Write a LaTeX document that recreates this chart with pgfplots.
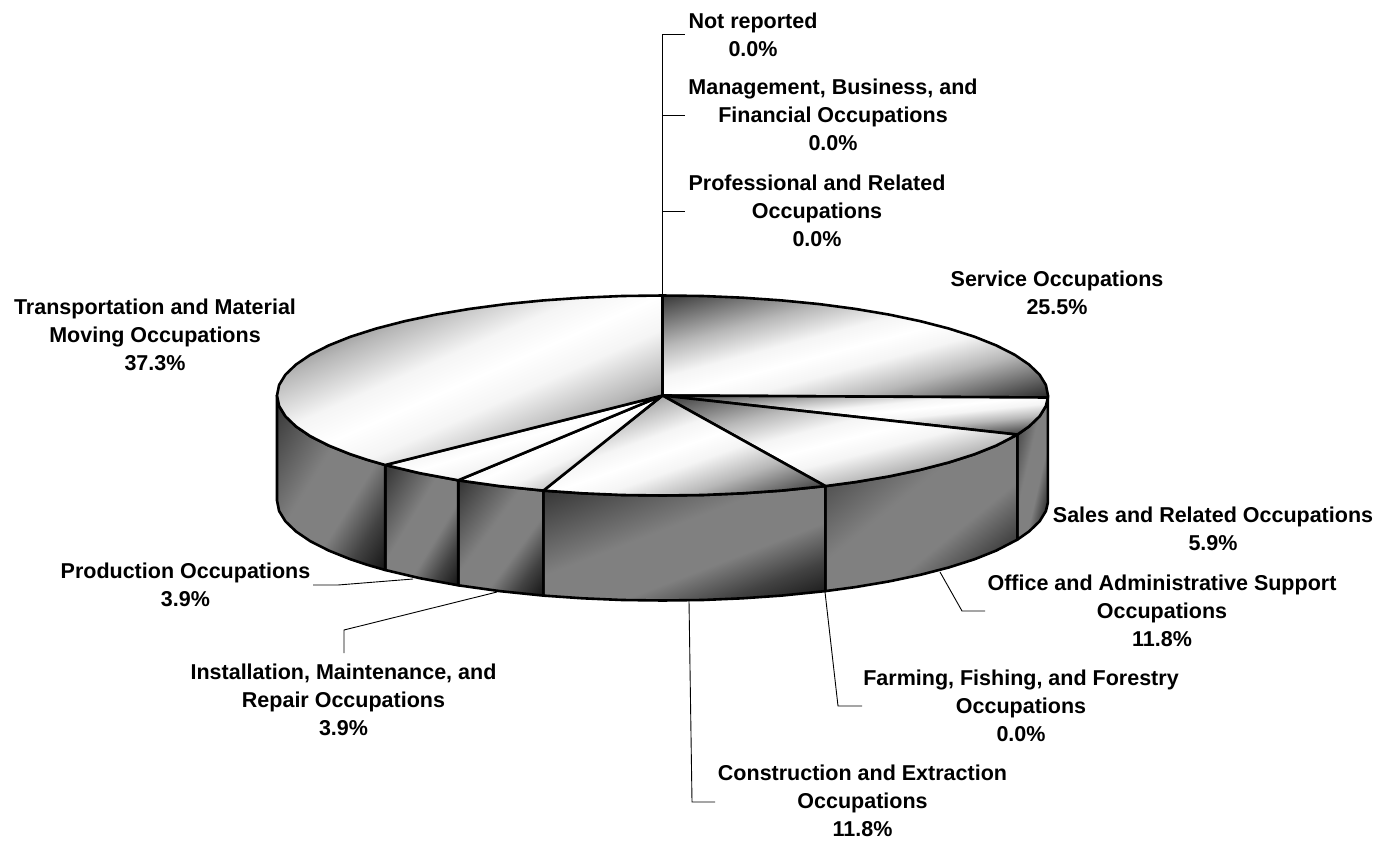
\documentclass[border=0pt]{standalone}
\usepackage{pgfplots}
\pgfplotsset{compat=1.18}
\usepackage{fontspec}
\setmainfont{Liberation Sans}
\newcommand\declTop[7]{\pgfdeclareverticalshading{#1}{100bp}{color(0bp)=(black!84); color(#2bp)=(black!84); color(#3bp)=(black!28); color(#4bp)=(black!4); color(50bp)=(white); color(#5bp)=(black!4); color(#6bp)=(black!28); color(#7bp)=(black!78); color(100bp)=(black!78)}}
\newcommand\declSide[6]{\pgfdeclareverticalshading{#1}{100bp}{color(0bp)=(black!92); color(#2bp)=(black!92); color(#3bp)=(black!74); color(#4bp)=(black!50); color(#5bp)=(black!50); color(#6bp)=(black!80); color(100bp)=(black!80)}}
\declTop{topService}{19.45}{34.7}{43.9}{56.1}{65.3}{80.55}
\declTop{topSales}{22.6}{36.3}{44.5}{55.5}{63.7}{77.4}
\declTop{topOffice}{19.6}{34.8}{43.9}{56.1}{65.2}{80.4}
\declTop{topConstr}{18.1}{34}{43.6}{56.4}{66}{81.9}
\declTop{topInst}{16.8}{33.4}{43.4}{56.6}{66.6}{83.2}
\declTop{topProd}{18.8}{34.4}{43.8}{56.2}{65.6}{81.2}
\declTop{topTrans}{17}{33.5}{43.4}{56.6}{66.5}{83}
\declSide{sideSales}{20}{30.5}{41}{56}{80}
\declSide{sideOffice}{14.85}{27.15}{39.45}{57}{85.15}
\declSide{sideConstr}{17.7}{29}{40.3}{56.5}{82.3}
\declSide{sideInst}{15}{27.25}{39.5}{57}{85}
\declSide{sideProd}{15.6}{27.6}{39.7}{56.9}{84.4}
\declSide{sideTrans}{15.55}{27.6}{39.65}{56.9}{84.45}
\tikzset{
  pie/.style 2 args={draw=black,line width=2.6pt,line join=round,shading=#1,shading angle=#2},
  lead/.style={draw=black,line width=0.9pt,line join=miter},
  lab/.style={align=center,inner sep=0pt,font=\fontsize{21.5}{28}\selectfont\bfseries,text=black}
}
\begin{document}
\begin{tikzpicture}
\begin{axis}[
  scale only axis,width=1380pt,height=842pt,
  xmin=0,xmax=1380,ymin=0,ymax=842,y dir=reverse,
  axis lines=none,clip=false]
\path (axis cs:0,0) rectangle (axis cs:1380,842);
% sides
\addplot[pie={sideSales}{77}] coordinates {(1047.9,397.5)(1045.9,406)(1039.6,416.3)(1029.1,426.4)(1017.4,434.6)(1017.4,539.6)(1029.1,531.4)(1039.6,521.3)(1045.9,511)(1047.9,502.5)} --cycle;
\addplot[pie={sideOffice}{39}] coordinates {(1017.4,434.6)(996.4,445.5)(974.4,454.3)(949,462.4)(920.4,469.8)(889.1,476.4)(855.3,482.1)(825.4,486.1)(825.4,591.1)(855.3,587.1)(889.1,581.4)(920.4,574.8)(949,567.4)(974.4,559.3)(996.4,550.5)(1017.4,539.6)} --cycle;
\addplot[pie={sideConstr}{21}] coordinates {(825.4,486.1)(781.6,490.6)(742.6,493.3)(702.8,495)(662.5,495.5)(622.2,495)(582.4,493.3)(543.4,490.6)(543.4,595.6)(582.4,598.3)(622.2,600)(662.5,600.5)(702.8,600)(742.6,598.3)(781.6,595.6)(825.4,591.1)} --cycle;
\addplot[pie={sideInst}{53.5}] coordinates {(543.4,490.6)(499.6,486.1)(458.2,480.3)(458.2,585.3)(499.6,591.1)(543.4,595.6)} --cycle;
\addplot[pie={sideProd}{58.7}] coordinates {(458.2,480.3)(419.9,473.2)(385.2,465)(385.2,570)(419.9,578.2)(458.2,585.3)} --cycle;
\addplot[pie={sideTrans}{58}] coordinates {(385.2,465)(367.2,459.8)(350.6,454.3)(328.6,445.5)(310.3,436.2)(295.9,426.4)(285.4,416.3)(279.1,406)(277,395.5)(277,500.5)(279.1,511)(285.4,521.3)(295.9,531.4)(310.3,541.2)(328.6,550.5)(350.6,559.3)(367.2,564.8)(385.2,570)} --cycle;
% tops
\addplot[pie={topService}{14.8}] coordinates {(662.5,395.5)(662.5,295.5)(702.8,296)(742.6,297.7)(781.6,300.4)(819.3,304.1)(855.3,308.9)(889.1,314.6)(920.4,321.2)(949,328.6)(974.4,336.7)(996.4,345.5)(1014.7,354.8)(1029.1,364.6)(1039.6,374.7)(1045.9,385)(1048,395.5)(1047.9,397.5)} --cycle;
\addplot[pie={topSales}{5.8}] coordinates {(662.5,395.5)(1047.9,397.5)(1045.9,406)(1039.6,416.3)(1029.1,426.4)(1017.4,434.6)} --cycle;
\addplot[pie={topOffice}{14.4}] coordinates {(662.5,395.5)(1017.4,434.6)(996.4,445.5)(974.4,454.3)(949,462.4)(920.4,469.8)(889.1,476.4)(855.3,482.1)(825.4,486.1)} --cycle;
\addplot[pie={topConstr}{19.5}] coordinates {(662.5,395.5)(825.4,486.1)(781.6,490.6)(742.6,493.3)(702.8,495)(662.5,495.5)(622.2,495)(582.4,493.3)(543.4,490.6)} --cycle;
\addplot[pie={topInst}{25}] coordinates {(662.5,395.5)(543.4,490.6)(499.6,486.1)(458.2,480.3)} --cycle;
\addplot[pie={topProd}{17}] coordinates {(662.5,395.5)(458.2,480.3)(419.9,473.2)(385.2,465)} --cycle;
\addplot[pie={topTrans}{23.8}] coordinates {(662.5,395.5)(385.2,465)(367.2,459.8)(350.6,454.3)(328.6,445.5)(310.3,436.2)(295.9,426.4)(285.4,416.3)(279.1,406)(277,395.5)(279.1,385)(285.4,374.7)(295.9,364.6)(310.3,354.8)(328.6,345.5)(350.6,336.7)(376,328.6)(404.6,321.2)(435.9,314.6)(469.7,308.9)(505.7,304.1)(543.4,300.4)(582.4,297.7)(622.2,296)(662.5,295.5)} --cycle;
% leader lines
\addplot[lead] coordinates {(662.7,295)(662.7,34)(685,34)};
\addplot[lead] coordinates {(662.7,295)(662.7,115)(685,115)};
\addplot[lead] coordinates {(662.7,295)(662.7,211)(685,211)};
\addplot[lead] coordinates {(940,572)(962,611)(985,611)};
\addplot[lead] coordinates {(825,592)(838,706)(862,706)};
\addplot[lead] coordinates {(689,601)(692,802)(715,802)};
\addplot[lead] coordinates {(497,592)(344,630)(344,653)};
\addplot[lead] coordinates {(413,579)(338,585)(313,585)};
% labels
\node[lab] at (axis cs:753,35) {Not reported\\0.0\%};
\node[lab] at (axis cs:833,115) {Management, Business, and\\Financial Occupations\\0.0\%};
\node[lab] at (axis cs:817,211) {Professional and Related\\Occupations\\0.0\%};
\node[lab] at (axis cs:1057,293) {Service Occupations\\25.5\%};
\node[lab] at (axis cs:155,335) {Transportation and Material\\Moving Occupations\\37.3\%};
\node[lab] at (axis cs:1213,529) {Sales and Related Occupations\\5.9\%};
\node[lab] at (axis cs:1162,611) {Office and Administrative Support\\Occupations\\11.8\%};
\node[lab] at (axis cs:1021,706) {Farming, Fishing, and Forestry\\Occupations\\0.0\%};
\node[lab] at (axis cs:862.5,801) {Construction and Extraction\\Occupations\\11.8\%};
\node[lab] at (axis cs:343.5,700) {Installation, Maintenance, and\\Repair Occupations\\3.9\%};
\node[lab] at (axis cs:185.5,585) {Production Occupations\\3.9\%};
\end{axis}
\end{tikzpicture}
\end{document}
